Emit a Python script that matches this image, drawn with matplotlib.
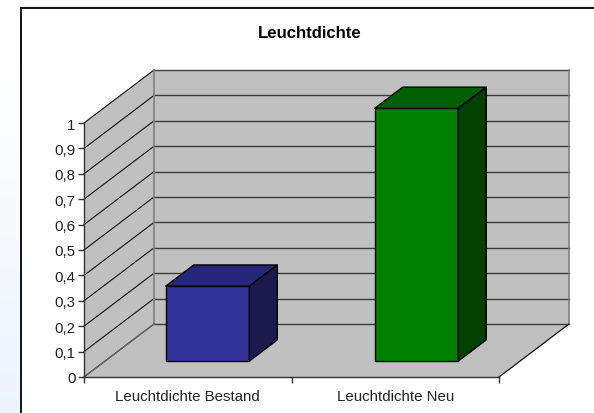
import numpy as np
import matplotlib
matplotlib.use("Agg")
import matplotlib.pyplot as plt
from matplotlib.patches import Polygon

categories = ["Leuchtdichte Bestand", "Leuchtdichte Neu"]
values = [0.295, 0.995]
y_ticks = [0, 0.1, 0.2, 0.3, 0.4, 0.5, 0.6, 0.7, 0.8, 0.9, 1]
y_labels = ["0", "0,1", "0,2", "0,3", "0,4", "0,5", "0,6", "0,7", "0,8", "0,9", "1"]
front_colors = ["#333399", "#008000"]
top_colors = ["#26267a", "#006000"]
side_colors = ["#1a1a4d", "#004000"]

W, H = 594, 414
# depth of the chart box in data units
DX = 70 / 207.5
DY = 53 / 254
BAR_W = 0.403
D0, D1 = 0.30, 0.70


def proj(x, y, d):
    return (x + DX * d, y + DY * d)


def poly(ax, pts, color, ec="black", lw=1.0, z=2):
    ax.add_patch(Polygon(pts, closed=True, facecolor=color, edgecolor=ec,
                         linewidth=lw, zorder=z, clip_on=False, joinstyle="round"))


def main():
    plt.rcParams["font.family"] = ["Liberation Sans", "DejaVu Sans"]
    fig = plt.figure(figsize=(W / 100, H / 100), dpi=100)

    # page background, pale blue fade in the strip left of the frame
    bg = fig.add_axes([0, 0, 1, 1], zorder=0)
    bg.axis("off")
    grad = np.ones((H, W, 3))
    t = np.clip((np.arange(H)[:, None] - 60) / (H - 60), 0, 1)
    s = (np.arange(W)[None, :] < 20) * 1.0
    grad[:, :, 0] = 1 - 0.07 * t * s
    grad[:, :, 1] = 1 - 0.04 * t * s
    grad[:, :, 2] = 1 - 0.01 * t * s
    bg.imshow(grad, aspect="auto", extent=(0, W, H, 0))
    bg.set_xlim(0, W)
    bg.set_ylim(H, 0)
    # frame is only visible on the top and the left
    bg.plot([20, W], [8, 8], color="#cccccc", lw=1.0)
    bg.plot([20.5, W], [9.3, 9.3], color="black", lw=1.3)
    bg.plot([20.5, 20.5], [9.3, H], color="black", lw=1.3)
    bg.text(310, 33, "Leuchtdichte", ha="center", va="center", fontsize=12.1, fontweight="bold")

    ax = fig.add_axes([84 / W, (H - 378) / H, 415 / W, 254 / H], zorder=1)
    ax.set_xlim(0, 2)
    ax.set_ylim(0, 1)
    ax.patch.set_alpha(0)
    for s in ["top", "right"]:
        ax.spines[s].set_visible(False)
    for s in ["left", "bottom"]:
        ax.spines[s].set_color("#333333")
        ax.spines[s].set_linewidth(1.0)
        ax.spines[s].set_zorder(5)

    ax.set_yticks(y_ticks)
    ax.set_yticklabels(y_labels)
    ax.set_xticks([0, 1, 2])
    ax.set_xticklabels([])
    ax.set_xticks([0.5, 1.5], minor=True)
    ax.set_xticklabels(categories, minor=True)
    ax.tick_params(axis="x", which="minor", length=0, pad=9, labelsize=10.8, labelcolor="#222222")
    ax.tick_params(axis="x", which="major", length=4.5, width=1, color="#333333")
    ax.tick_params(axis="y", length=4.5, width=1, color="#333333", pad=1.5, labelsize=10.8, labelcolor="#222222")

    # floor, side wall, back wall
    grey = "#c0c0c0"
    edge = "#808080"
    poly(ax, [proj(0, 0, 0), proj(2, 0, 0), proj(2, 0, 1), proj(0, 0, 1)], grey, ec="none", z=1)
    poly(ax, [proj(0, 0, 0), proj(0, 1, 0), proj(0, 1, 1), proj(0, 0, 1)], grey, ec="none", z=1)
    poly(ax, [proj(0, 0, 1), proj(2, 0, 1), proj(2, 1, 1), proj(0, 1, 1)], grey, ec="none", z=1)

    # gridlines on both walls
    for t in y_ticks:
        p0, p1, p2 = proj(0, t, 0), proj(0, t, 1), proj(2, t, 1)
        ax.plot([p0[0], p1[0]], [p0[1], p1[1]], color="#111111", lw=0.8, zorder=1.5, clip_on=False)
        ax.plot([p1[0], p2[0]], [p1[1], p2[1]], color="#3c3c3c", lw=1.0, zorder=1.5, clip_on=False)

    # wall edges
    a, b = proj(0, 0, 1), proj(0, 1, 1)
    ax.plot([a[0], b[0]], [a[1], b[1]], color=edge, lw=1.2, zorder=1.6, clip_on=False)
    a, b = proj(2, 0, 1), proj(2, 1, 1)
    ax.plot([a[0], b[0]], [a[1], b[1]], color=edge, lw=1.2, zorder=1.6, clip_on=False)
    a, b = proj(0, 0, 0), proj(0, 0, 1)
    ax.plot([a[0], b[0]], [a[1], b[1]], color="#666666", lw=1.0, zorder=1.6, clip_on=False)
    a, b = proj(2, 0, 0), proj(2, 0, 1)
    ax.plot([a[0], b[0]], [a[1], b[1]], color="#111111", lw=0.9, zorder=1.6, clip_on=False)

    # bars
    for i, v in enumerate(values):
        x0 = i * 1.007 + 0.5 - BAR_W / 2 - 0.006
        x1 = x0 + BAR_W
        poly(ax, [proj(x0, 0, D0), proj(x1, 0, D0), proj(x1, v, D0), proj(x0, v, D0)], front_colors[i], z=3)
        poly(ax, [proj(x0, v, D0), proj(x1, v, D0), proj(x1, v, D1), proj(x0, v, D1)], top_colors[i], z=3)
        poly(ax, [proj(x1, 0, D0), proj(x1, 0, D1), proj(x1, v, D1), proj(x1, v, D0)], side_colors[i], z=3)

    fig.savefig("out.png", dpi=100)


if __name__ == '__main__':
    main()
